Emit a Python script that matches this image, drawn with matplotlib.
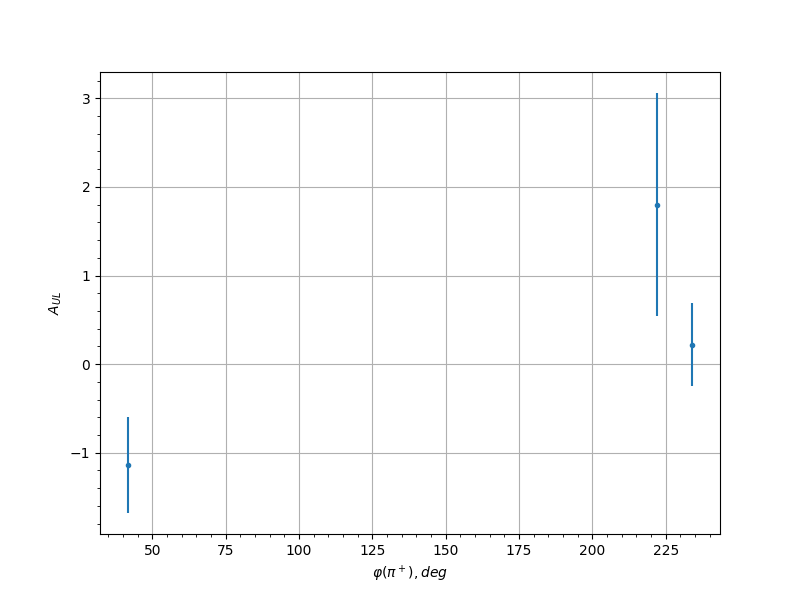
import matplotlib
matplotlib.use('Agg')
import matplotlib.pyplot as plt

# phi angle bins (deg), asymmetry values and errors
phi_deg = [41.8, 221.9, 233.9]
a_ul = [-1.14, 1.80, 0.22]
a_ul_err = [0.54, 1.26, 0.47]

fig, ax = plt.subplots(figsize=(8, 6), dpi=100)
ax.errorbar(phi_deg, a_ul, yerr=a_ul_err, fmt='.')
ax.set_xlabel(r'$\varphi(\pi^+), deg$')
ax.set_ylabel(r'$A_{UL}$')
ax.minorticks_on()
ax.grid(True, which='major')

fig.savefig('out.png')
